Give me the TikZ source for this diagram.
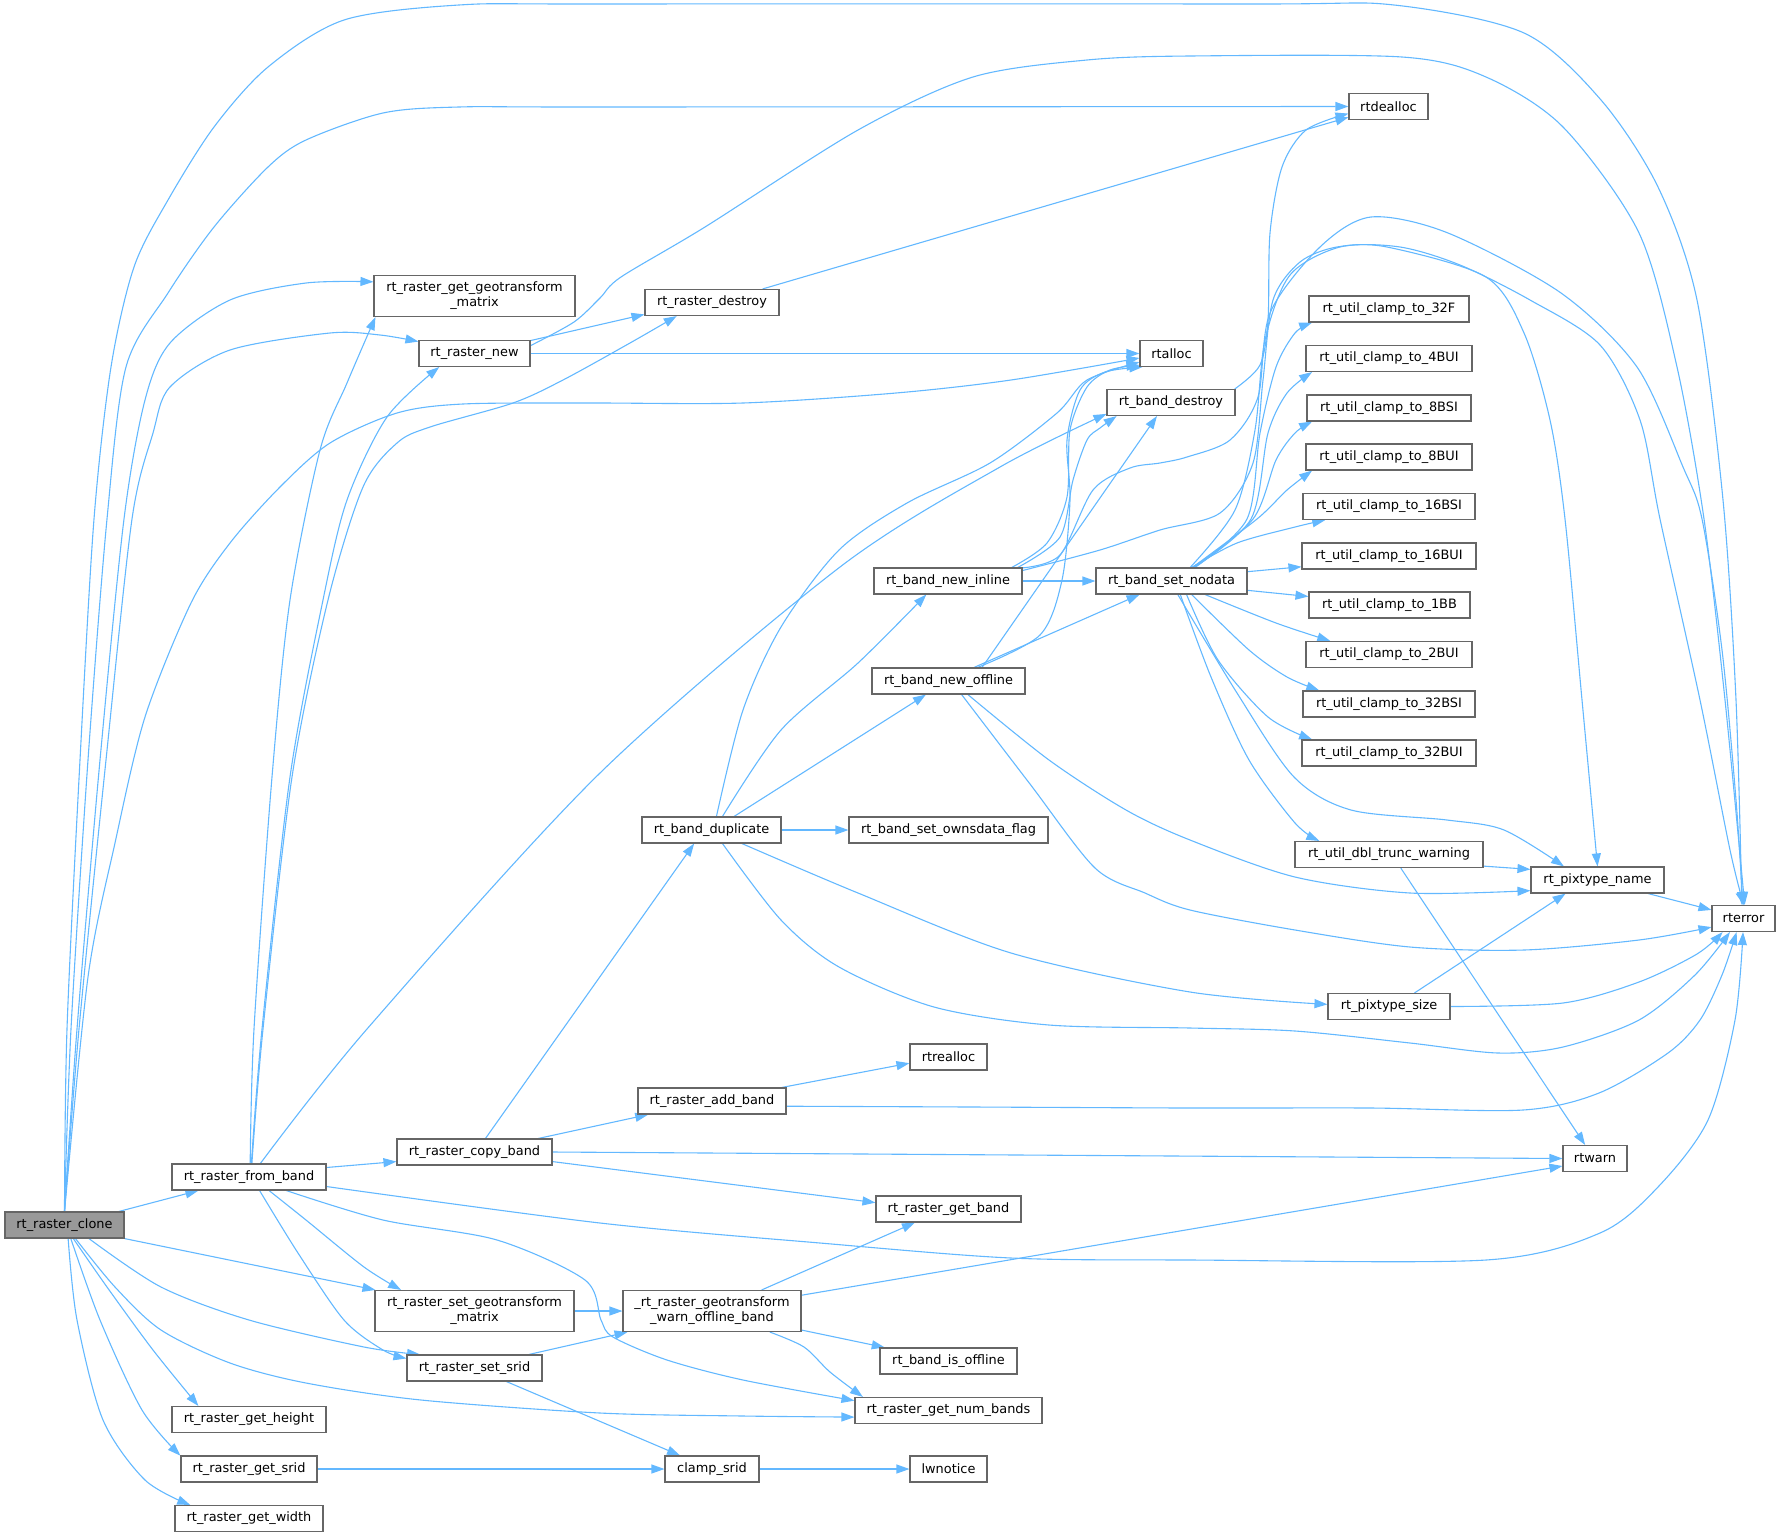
\documentclass[tikz,border=0pt]{standalone}
\usepackage{fontspec}
\setmainfont{DejaVu Sans}
\usetikzlibrary{arrows.meta}
\definecolor{edgeblue}{HTML}{63B8FF}
\definecolor{nodegray}{HTML}{666666}
\definecolor{rootgray}{HTML}{999999}
\pgfdeclarelayer{bg}
\pgfsetlayers{bg,main}
\tikzset{
  box/.style={draw=nodegray, line width=1.1pt, fill=white, inner sep=0pt, text=black,
    font=\fontsize{12.9}{15}\selectfont, align=center, minimum height=26pt},
  twoline/.style={box, minimum height=41pt},
  rootbox/.style={box, fill=rootgray},
  edge/.style={draw=edgeblue, line width=1.1pt, line join=round, -{Triangle[length=13pt,width=9pt]}},
}
\begin{document}
\begin{tikzpicture}[x=1pt,y=-1pt]
\useasboundingbox (0,0) rectangle (1777,1537);
% nodes
\node[rootbox, minimum width=119pt] (C) at (64.5,1225) {rt\_raster\_clone};
\node[box, minimum width=154pt] (FB) at (249,1177) {rt\_raster\_from\_band};
\node[twoline, minimum width=201pt] (GGM) at (474.5,296) {rt\_raster\_get\_geotransform\\\_matrix};
\node[box, minimum width=111pt] (RN) at (474.5,353.5) {rt\_raster\_new};
\node[box, minimum width=134pt] (RD) at (712,302.5) {rt\_raster\_destroy};
\node[box, minimum width=79pt] (DEA) at (1388.5,106.5) {rtdealloc};
\node[box, minimum width=63pt] (AL) at (1171.5,353.5) {rtalloc};
\node[box, minimum width=128pt] (BD) at (1171,402.5) {rt\_band\_destroy};
\node[box, minimum width=63pt] (ERR) at (1743.5,918.5) {rterror};
\node[box, minimum width=148pt] (I) at (948,581) {rt\_band\_new\_inline};
\node[box, minimum width=151pt] (N) at (1171.5,581) {rt\_band\_set\_nodata};
\node[box, minimum width=153pt] (OFF) at (948.5,681) {rt\_band\_new\_offline};
\node[box, minimum width=139pt] (DUP) at (711.5,830) {rt\_band\_duplicate};
\node[box, minimum width=199pt] (OWN) at (948.5,830) {rt\_band\_set\_ownsdata\_flag};
\node[box, minimum width=160pt] (K32F) at (1389,309) {rt\_util\_clamp\_to\_32F};
\node[box, minimum width=166pt] (K4BUI) at (1389,358.5) {rt\_util\_clamp\_to\_4BUI};
\node[box, minimum width=164pt] (K8BSI) at (1389,408) {rt\_util\_clamp\_to\_8BSI};
\node[box, minimum width=166pt] (K8BUI) at (1389,457) {rt\_util\_clamp\_to\_8BUI};
\node[box, minimum width=172pt] (K16BSI) at (1389,506.5) {rt\_util\_clamp\_to\_16BSI};
\node[box, minimum width=174pt] (K16BUI) at (1389,556) {rt\_util\_clamp\_to\_16BUI};
\node[box, minimum width=161pt] (K1BB) at (1389.5,605) {rt\_util\_clamp\_to\_1BB};
\node[box, minimum width=166pt] (K2BUI) at (1389,654.5) {rt\_util\_clamp\_to\_2BUI};
\node[box, minimum width=172pt] (K32BSI) at (1389,704) {rt\_util\_clamp\_to\_32BSI};
\node[box, minimum width=174pt] (K32BUI) at (1389,753) {rt\_util\_clamp\_to\_32BUI};
\node[box, minimum width=188pt] (DBL) at (1389,854.5) {rt\_util\_dbl\_trunc\_warning};
\node[box, minimum width=133pt] (PN) at (1597.5,880) {rt\_pixtype\_name};
\node[box, minimum width=122pt] (PS) at (1389,1006.5) {rt\_pixtype\_size};
\node[box, minimum width=77pt] (REA) at (948.5,1057) {rtrealloc};
\node[box, minimum width=148pt] (AB) at (712,1101) {rt\_raster\_add\_band};
\node[box, minimum width=155pt] (CB) at (474.5,1152) {rt\_raster\_copy\_band};
\node[box, minimum width=64pt] (WARN) at (1595,1158.5) {rtwarn};
\node[box, minimum width=145pt] (GB) at (948.5,1209) {rt\_raster\_get\_band};
\node[twoline, minimum width=199pt] (SGM) at (474.5,1311) {rt\_raster\_set\_geotransform\\\_matrix};
\node[twoline, minimum width=178pt] (WOB) at (712,1311) {\_rt\_raster\_geotransform\\\_warn\_offline\_band};
\node[box, minimum width=137pt] (BIO) at (948.5,1361) {rt\_band\_is\_offline};
\node[box, minimum width=135pt] (SS) at (474.5,1368) {rt\_raster\_set\_srid};
\node[box, minimum width=187pt] (NB) at (948.5,1410.5) {rt\_raster\_get\_num\_bands};
\node[box, minimum width=154pt] (GH) at (249,1419.5) {rt\_raster\_get\_height};
\node[box, minimum width=136pt] (GS) at (249,1469) {rt\_raster\_get\_srid};
\node[box, minimum width=94pt] (CS) at (712,1469) {clamp\_srid};
\node[box, minimum width=77pt] (LW) at (948.5,1469) {lwnotice};
\node[box, minimum width=148pt] (GW) at (249,1518.5) {rt\_raster\_get\_width};
% edges
\begin{pgfonlayer}{bg}
% rt_raster_clone
\draw[edge] plot[smooth] coordinates {(C.north) (67,1029) (80,760) (94,519) (111,367) (134,267) (168,200) (214,127) (268,67) (344,20) (459,5) (600,4) (1250,4) (1394,5) (1524,33) (1601,100) (1658,187) (1697,300) (1723,500) (1736,700) (ERR.97)};
\draw[edge] plot[smooth] coordinates {(C.north) (71,1029) (88,760) (107,519) (126,367) (168,293) (214,227) (268,167) (306,140) (383,113) (459,107) (600,107) (DEA.west)};
\draw[edge] plot[smooth] coordinates {(C.north) (77,1029) (100,760) (124,519) (145,400) (170,343) (230,300) (306,283) (GGM.172)};
\draw[edge] plot[smooth] coordinates {(C.north) (79,1029) (106,760) (132,519) (153,433) (170,387) (230,350) (330,333) (380,335) (RN.168)};
\draw[edge] plot[smooth] coordinates {(C.north) (88,977) (115,843) (145,717) (191,603) (230,543) (280,487) (330,443) (397,413) (463,404) (590,403) (743,403) (896,393) (1011,380) (AL.188)};
\draw[edge] (C.14) -- (FB.195);
\draw[edge] (C.south east) -- (SGM.168);
\draw[edge] plot[smooth] coordinates {(C.-29) (161,1287) (249,1320) (364,1347) (SS.166)};
\draw[edge] plot[smooth] coordinates {(C.-51) (115,1287) (161,1330) (230,1363) (306,1383) (421,1400) (600,1413) (743,1416) (NB.184)};
\draw[edge] plot[smooth] coordinates {(C.-57) (107,1287) (153,1350) (GH.165)};
\draw[edge] plot[smooth] coordinates {(C.-65) (100,1320) (142,1410) (GS.169)};
\draw[edge] plot[smooth] coordinates {(C.-75) (77,1320) (103,1420) (145,1480) (GW.167)};
% rt_raster_from_band
\draw[edge] plot[smooth] coordinates {(FB.85) (254,1029) (272,777) (290,600) (320,450) (347,383) (GGM.192)};
\draw[edge] plot[smooth] coordinates {(FB.80) (262,1029) (290,777) (323,600) (347,500) (387,417) (RN.201)};
\draw[edge] plot[smooth] coordinates {(FB.78) (263,1029) (292,777) (328,600) (363,487) (397,443) (430,427) (513,403) (563,380) (630,343) (RD.201)};
\draw[edge] plot[smooth] coordinates {(FB.50) (367,1029) (600,773) (840,567) (1000,467) (BD.190)};
\draw[edge] (FB.7) -- (CB.187);
\draw[edge] plot[smooth] coordinates {(FB.-7) (600,1223) (820,1243) (1011,1258) (1190,1260) (1486,1260) (1600,1233) (1658,1187) (1708,1120) (1735,1020) (ERR.268)};
\draw[edge] plot[smooth] coordinates {(FB.-34) (306,1220) (364,1267) (SGM.164)};
\draw[edge] plot[smooth] coordinates {(FB.-52) (298,1253) (344,1320) (383,1350) (SS.172)};
\draw[edge] plot[smooth] coordinates {(FB.-20) (383,1220) (497,1240) (585,1280) (601,1320) (613,1337) (667,1360) (743,1380) (NB.174)};
% rt_raster_copy_band
\draw[edge] (CB.51) -- (DUP.218);
\draw[edge] (CB.12) -- (AB.192);
\draw[edge] (CB.east) -- (WARN.west);
\draw[edge] (CB.-7) -- (GB.175);
% rt_raster_add_band
\draw[edge] (AB.11) -- (REA.189);
\draw[edge] plot[smooth] coordinates {(AB.-4) (973,1107) (1190,1108) (1370,1108) (1523,1110) (1599,1093) (1668,1053) (1700,1020) (1722,975) (ERR.243)};
% rt_band_duplicate
\draw[edge] plot[smooth] coordinates {(DUP.51) (781,730) (858,663) (I.212)};
\draw[edge] (DUP.31) -- (OFF.211);
\draw[edge] (DUP.east) -- (OWN.west);
\draw[edge] plot[smooth] coordinates {(DUP.70) (743,710) (781,627) (839,550) (907,503) (990,463) (1057,413) (1087,380) (AL.195)};
\draw[edge] plot[smooth] coordinates {(DUP.-24) (858,893) (1011,953) (1190,992) (PS.178)};
\draw[edge] plot[smooth] coordinates {(DUP.-51) (781,920) (839,967) (934,1007) (1049,1025) (1190,1028) (1295,1031) (1410,1043) (1498,1053) (1563,1047) (1639,1020) (1695,975) (ERR.225)};
% rt_band_new_offline
\draw[edge] (OFF.28) -- (N.203);
\draw[edge] (OFF.22) -- (BD.224);
\draw[edge] plot[smooth] coordinates {(OFF.25) (1040,635) (1062,580) (1070,500) (1067,440) (1080,390) (1105,372) (AL.205)};
\draw[edge] plot[smooth] coordinates {(OFF.-35) (1049,760) (1126,810) (1190,840) (1295,877) (1410,893) (PN.189)};
\draw[edge] plot[smooth] coordinates {(OFF.-46) (1030,784) (1095,868) (1145,893) (1190,910) (1295,930) (1410,947) (1524,950) (1639,940) (ERR.195)};
% rt_band_new_inline
\draw[edge] (I.east) -- (N.west);
\draw[edge] plot[smooth] coordinates {(I.12) (1047,543) (1067,497) (1070,430) (1087,387) (1110,370) (AL.200)};
\draw[edge] plot[smooth] coordinates {(I.11) (1060,537) (1073,480) (1087,440) (1100,428) (BD.194)};
\draw[edge] plot[smooth] coordinates {(I.10) (1060,555) (1093,490) (1130,468) (1160,463) (1187,457) (1230,440) (1258,397) (1270,313) (1320,247) (1371,217) (1448,233) (1561,293) (1637,367) (1683,467) (1702,519) (1722,650) (1736,800) (ERR.93)};
\draw[edge] plot[smooth] coordinates {(I.8) (1100,550) (1160,530) (1220,513) (1253,463) (1263,380) (1273,300) (1300,262) (1337,247) (1387,247) (1486,277) (1524,333) (1550,420) (1565,519) (1582,700) (PN.north)};
% rt_band_set_nodata
\draw[edge] plot[smooth] coordinates {(N.30) (1247,519) (1260,433) (1276,367) (1295,333) (K32F.190)};
\draw[edge] plot[smooth] coordinates {(N.31) (1251,519) (1268,433) (1287,393) (K4BUI.190)};
\draw[edge] plot[smooth] coordinates {(N.32) (1253,519) (1276,460) (1295,433) (K8BSI.190)};
\draw[edge] plot[smooth] coordinates {(N.33) (1257,519) (1287,490) (K8BUI.190)};
\draw[edge] plot[smooth] coordinates {(N.34) (1237,543) (1295,527) (K16BSI.192)};
\draw[edge] (N.7) -- (K16BUI.187);
\draw[edge] (N.-7) -- (K1BB.174);
\draw[edge] plot[smooth] coordinates {(N.-22) (1276,623) (K2BUI.167)};
\draw[edge] plot[smooth] coordinates {(N.-34) (1249,650) (1287,677) (K32BSI.169)};
\draw[edge] plot[smooth] coordinates {(N.-42) (1218,660) (1268,717) (K32BUI.170)};
\draw[edge] plot[smooth] coordinates {(N.-57) (1211,677) (1249,760) (1295,823) (DBL.169)};
\draw[edge] plot[smooth] coordinates {(N.-65) (1237,693) (1294,777) (1351,810) (1447,820) (1504,830) (PN.158)};
\draw[edge] plot[smooth] coordinates {(N.36) (1235,510) (1255,430) (1265,340) (1290,275) (1340,247) (1400,247) (1460,265) (1530,300) (1600,345) (1640,420) (1660,519) (1700,700) (1730,850) (ERR.89)};
% others
\draw[edge] (DBL.-7) -- (PN.171);
\draw[edge] (DBL.-49) -- (WARN.126);
\draw[edge] (PS.28) -- (PN.203);
\draw[edge] plot[smooth] coordinates {(PS.east) (1563,1003) (1639,982) (1697,954) (ERR.213)};
\draw[edge] (PN.-15) -- (ERR.165);
\draw[edge] (WOB.23) -- (GB.202);
\draw[edge] (WOB.10) -- (WARN.193);
\draw[edge] (WOB.-12) -- (BIO.168);
\draw[edge] plot[smooth] coordinates {(WOB.-20) (804,1347) (830,1372) (NB.171)};
\draw[edge] (SGM.east) -- (WOB.west);
\draw[edge] (SS.14) -- (WOB.194);
\draw[edge] (SS.-23) -- (CS.157);
\draw[edge] (GS.east) -- (CS.west);
\draw[edge] (CS.east) -- (LW.west);
\draw[edge] (RN.east) -- (AL.west);
\draw[edge] (RN.13) -- (RD.190);
\draw[edge] plot[smooth] coordinates {(RN.8) (574,322) (600,298) (621,277) (705,227) (858,130) (973,77) (1087,60) (1190,56) (1402,57) (1486,77) (1563,127) (1639,233) (1677,367) (1704,519) (1725,700) (ERR.85)};
\draw[edge] (RD.15) -- (DEA.195);
\draw[edge] plot[smooth] coordinates {(BD.12) (1260,365) (1268,320) (1270,233) (1282,167) (1306,130) (DEA.190)};
\end{pgfonlayer}
\end{tikzpicture}
\end{document}
